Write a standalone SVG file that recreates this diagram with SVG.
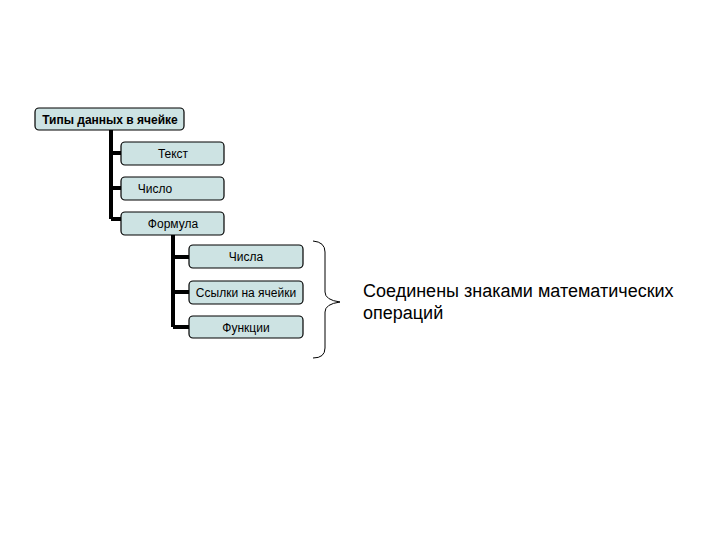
<svg xmlns="http://www.w3.org/2000/svg" width="720" height="540" viewBox="0 0 720 540">
<style>
.box{fill:#cde3e3;stroke:#000;stroke-width:1.2}
.t{font-family:"Liberation Sans",Arial,sans-serif;font-size:12px;fill:#000;text-anchor:middle}
.c{stroke:#000;stroke-width:4;fill:none}
</style>
<rect width="720" height="540" fill="#fff"/>
<g id="connectors">
<path class="c" d="M111 130 V219 M111 153 H121 M111 188 H121 M111 219 H121"/>
<path class="c" d="M173 235 V327 M173 257 H189 M173 292 H189 M173 327 H189"/>
</g>
<g id="root"><rect class="box" x="35" y="108" width="149" height="22" rx="4"/><text class="t" x="110" y="123.5" font-weight="bold">Типы данных в ячейке</text></g>
<g id="text"><rect class="box" x="121" y="142" width="103" height="23" rx="4"/><text class="t" x="173" y="158">Текст</text></g>
<g id="number"><rect class="box" x="121" y="177" width="103" height="23" rx="4"/><text class="t" x="155" y="193">Число</text></g>
<g id="formula"><rect class="box" x="121" y="212" width="103" height="23" rx="4"/><text class="t" x="173" y="228">Формула</text></g>
<g id="numbers"><rect class="box" x="189" y="245" width="114" height="23" rx="4"/><text class="t" x="246" y="261">Числа</text></g>
<g id="refs"><rect class="box" x="189" y="281" width="114" height="23" rx="4"/><text class="t" x="246" y="297">Ссылки на ячейки</text></g>
<g id="funcs"><rect class="box" x="189" y="316" width="114" height="22" rx="4"/><text class="t" x="246" y="331.5">Функции</text></g>
<g id="brace">
<path d="M313 241 Q325 242 325 252 V292 Q325 300 340 302 Q325 304 325 312 V348 Q325 358 313 358" fill="none" stroke="#000" stroke-width="1"/>
</g>
<g id="note">
<text font-family="'Liberation Sans',Arial,sans-serif" font-size="18" fill="#000"><tspan x="363" y="297">Соединены знаками математических</tspan><tspan x="363" y="319">операций</tspan></text>
</g>
</svg>
